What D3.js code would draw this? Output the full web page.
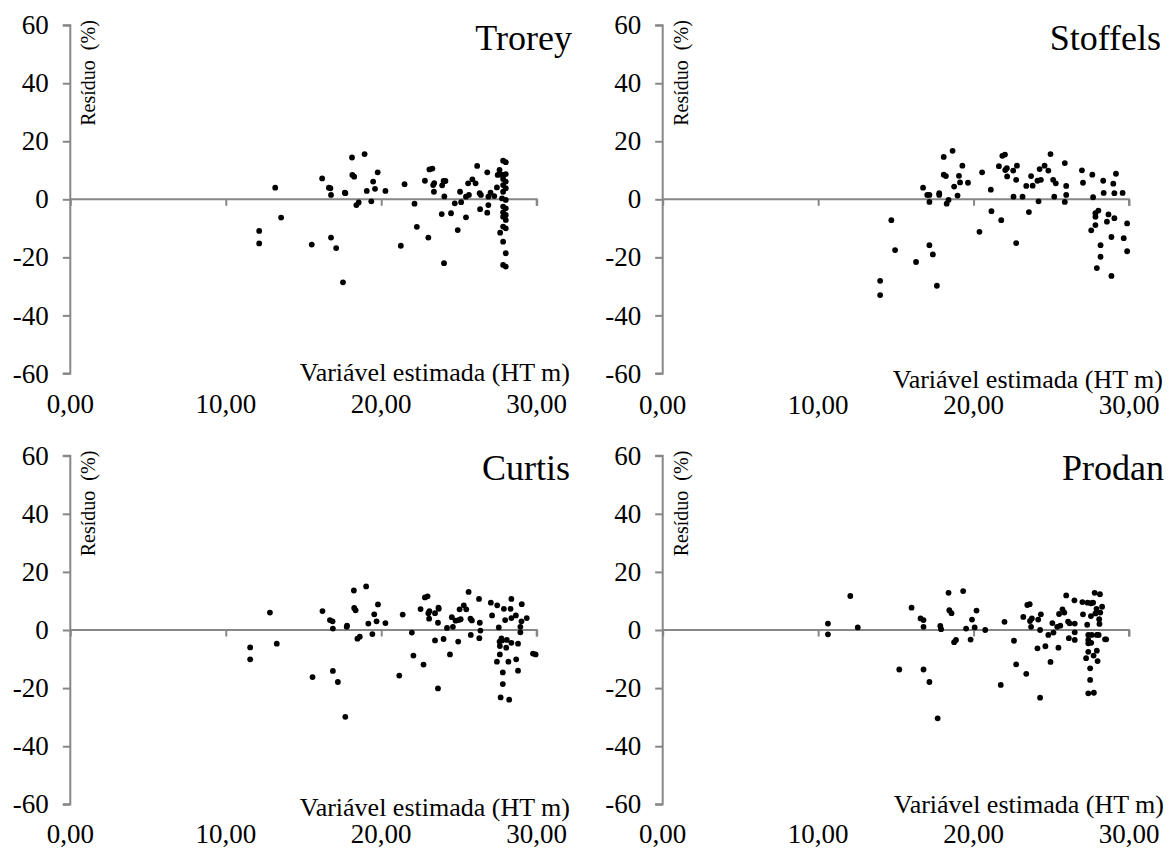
<!DOCTYPE html>
<html><head><meta charset="utf-8">
<script src="https://cdnjs.cloudflare.com/ajax/libs/d3/7.8.5/d3.min.js"></script>
<style>body{margin:0;background:#fff}svg{display:block}</style>
</head><body><svg id="c" width="1170" height="849"></svg>
<script>
// ---- data ----
const panelTitles = ["Trorey", "Stoffels", "Curtis", "Prodan"];
const xAxisTitle = "Variável estimada (HT m)";
const yAxisTitle = "Resíduo  (%)";
const xTickValues = [0, 10, 20, 30];
const yTickValues = [-60, -40, -20, 0, 20, 40, 60];

const troreyX = [12.15,12.15,13.18,13.56,15.53,16.2,16.63,16.73,16.77,16.77,17.1,17.54,17.66,17.69,18.12,18.14,18.26,18.4,18.55,18.93,19.07,19.36,19.48,19.6,19.77,20.27,21.26,21.5,22.14,22.29,22.81,23.03,23.1,23.29,23.34,23.41,23.39,23.89,23.92,24.01,24.13,24.06,24.04,24.49,24.73,24.92,25.07,25.14,25.45,25.45,25.59,25.64,25.86,26.07,26.17,26.33,26.41,26.36,26.82,26.82,26.89,26.89,27.03,27.27,27.44,27.49,27.61,27.65,27.73,27.77,27.84,28.01,27.84,28.01,27.84,28.01,27.84,28.01,27.84,28.01,27.84,28.01,27.84,28.01,27.84,28.01,27.84,28.01,27.84,28.01,27.84,28.01];
const troreyY = [-10.9,-15.2,4.0,-6.3,-15.6,7.2,4.0,3.8,1.5,-13.2,-16.8,-28.6,2.3,2.1,14.4,8.4,7.8,-2.0,-1.1,15.6,2.9,-0.7,6.1,3.6,9.3,2.9,-16.0,5.2,-1.5,-9.5,6.4,-13.2,10.3,10.6,4.9,5.6,2.6,-5.1,4.8,6.3,6.3,1.0,-22.0,-4.8,-1.4,-10.6,2.6,-1.0,-6.2,0.9,5.5,1.5,6.9,5.5,11.5,2.1,1.5,-3.4,9.3,-4.6,-2.0,0.9,2.3,1.1,4.1,8.4,10.1,-11.5,8.5,0.3,13.3,12.8,8.4,8.7,7.0,6.1,4.9,3.8,2.6,-0.2,-2.5,-3.1,-4.5,-5.4,-6.0,-7.1,-9.4,-10.0,-14.6,-18.6,-22.6,-23.2];

const stoffelsX = [13.99,13.99,14.71,14.95,16.3,16.75,17.02,17.16,17.16,17.16,17.38,17.64,17.79,17.79,18.08,18.08,18.22,18.27,18.39,18.65,18.75,18.97,19.06,19.13,19.28,19.64,20.38,20.55,21.11,21.15,21.63,21.78,21.85,22.02,22.04,22.14,22.16,22.55,22.57,22.74,22.74,22.79,23.15,23.39,23.56,23.7,23.8,24.11,24.18,24.25,24.33,24.57,24.81,24.95,25.12,25.19,25.29,25.87,25.87,25.96,25.96,26.97,27.04,27.57,27.64,27.69,27.84,27.84,27.84,27.93,28.03,28.17,28.17,28.34,28.37,28.58,28.68,28.87,28.87,28.99,29.06,29.06,29.16,29.59,29.66,29.88,29.88];
const stoffelsY = [-28.1,-33.0,-7.2,-17.5,-21.6,4.0,1.5,1.5,-0.9,-15.8,-19.0,-29.8,2.1,1.5,14.6,8.5,8.0,-1.5,-0.2,16.7,4.4,1.3,8.1,5.8,11.6,5.7,-11.2,9.3,3.3,-4.1,11.4,-7.2,15.0,15.4,10.1,10.7,7.9,9.9,0.9,6.7,-15.1,11.6,0.9,4.6,-4.4,8.0,4.7,6.4,-0.7,10.4,6.7,11.6,9.9,15.6,6.7,0.9,5.5,12.5,-0.9,4.6,1.5,10.0,5.7,-10.7,8.5,0.7,-8.9,-4.8,-6.0,-23.7,-3.9,-15.8,-19.8,6.4,2.2,-7.7,-5.2,-13.0,-26.4,5.4,2.1,-6.5,8.8,2.2,-13.4,-8.3,-17.9];

const curtisX = [11.57,11.57,12.84,13.28,15.58,16.22,16.7,16.87,16.89,16.89,17.21,17.69,17.78,17.8,18.24,18.26,18.35,18.47,18.62,19.03,19.17,19.43,19.55,19.7,19.79,20.27,21.16,21.38,21.97,22.07,22.53,22.72,22.81,22.98,23.03,23.08,23.1,23.46,23.46,23.65,23.68,23.7,23.65,24.01,24.23,24.42,24.54,24.61,24.78,24.95,24.97,25.04,25.11,25.31,25.47,25.62,25.74,25.76,25.83,26.29,26.34,26.31,26.38,27.05,27.13,27.46,27.44,27.56,27.61,27.63,27.63,27.68,27.73,27.77,27.82,27.82,27.89,27.97,28.04,28.08,28.18,28.23,28.32,28.37,28.37,28.37,28.66,28.68,28.8,28.8,28.95,28.95,29.02,29.04,29.36,29.76,29.93];
const curtisY = [-6.0,-10.1,6.0,-4.7,-16.2,6.5,3.4,3.0,0.5,-14.1,-17.9,-29.9,1.1,1.5,13.6,7.6,6.8,-3.0,-2.3,15.0,2.2,-1.4,5.4,3.0,8.8,2.4,-15.7,5.3,-0.9,-8.8,7.2,-11.9,11.2,11.6,5.8,3.9,6.5,-3.6,5.8,2.5,7.7,7.3,-20.1,-3.1,0.7,-8.4,4.4,1.1,3.2,-4.0,3.4,7.1,3.7,8.5,7.1,13.1,3.9,-1.7,3.3,10.7,2.5,-2.8,-0.2,9.4,5.0,8.5,-10.9,0.9,-4.0,-5.5,-8.4,-23.2,-2.9,-3.6,-14.6,-18.6,7.3,3.4,-6.1,-3.4,-10.9,-24.0,7.3,10.7,4.1,-4.4,5.0,-10.1,-4.7,-14.0,1.1,-0.8,3.0,8.9,4.1,-8.1,-8.4];

const prodanX = [10.63,10.63,12.07,12.55,15.22,16.01,16.59,16.78,16.78,16.78,17.16,17.69,17.86,17.91,18.39,18.44,18.58,18.75,18.87,19.33,19.52,19.81,19.9,20.07,20.19,20.75,21.75,21.99,22.6,22.74,23.2,23.39,23.46,23.61,23.63,23.7,23.75,24.11,24.16,24.28,24.28,24.33,24.62,24.81,24.95,25.07,25.14,25.38,25.46,25.5,25.58,25.72,25.84,25.96,26.08,26.13,26.18,26.49,26.51,26.51,26.51,27.0,27.04,27.24,27.31,27.33,27.38,27.38,27.38,27.38,27.38,27.5,27.5,27.55,27.55,27.57,27.6,27.69,27.72,27.74,27.79,27.84,27.91,27.93,27.93,27.98,28.05,28.08,28.1,28.13,28.15,28.27,28.46,28.53];
const prodanY = [2.2,-1.5,11.7,0.9,-13.6,7.7,4.0,3.4,1.1,-13.6,-17.9,-30.4,1.4,0.3,12.8,6.8,5.8,-4.2,-3.4,13.4,0.5,-3.3,3.6,0.9,6.7,0.0,-18.9,2.8,-3.7,-11.8,4.5,-15.1,8.6,8.9,3.1,1.1,4.0,-6.3,3.6,0.0,-23.3,5.4,-5.6,-1.7,-11.0,2.4,-0.9,1.1,-6.1,5.5,1.5,7.1,6.0,11.9,2.9,-2.8,2.3,10.2,2.2,-0.8,-3.4,9.6,5.4,-9.7,1.8,9.4,-3.4,-1.7,-4.6,-7.5,-21.8,-13.2,-17.2,9.2,4.8,-4.4,-1.7,9.4,-8.8,-21.6,12.8,5.7,7.3,-1.7,-7.1,-10.7,-1.7,3.7,2.1,12.3,6.0,8.0,-3.2,-3.2];

const seriesX = [troreyX, stoffelsX, curtisX, prodanX];
const seriesY = [troreyY, stoffelsY, curtisY, prodanY];

// ---- layout (positions / styles) ----
const layout = [
  {l:70.3, r:536.7, t:25.2, b:373.4, titleX:572, titleY:49.5, xlabX:570, xlabY:381, tickY:413},
  {l:662.7, r:1129, t:25.2, b:373.4, titleX:1161, titleY:49.5, xlabX:1163, xlabY:388, tickY:414},
  {l:70.3, r:536.7, t:455.7, b:804.3, titleX:570, titleY:480, xlabX:570, xlabY:816, tickY:843},
  {l:662.7, r:1129, t:455.7, b:804.3, titleX:1164, titleY:480, xlabX:1164, xlabY:813, tickY:843}
];
const axisColor = "#878787";
const SERIF = '"Liberation Serif", "Tinos", "Times New Roman", serif';
const fmtX = v => d3.format(".2f")(v).replace(".", ",");
const fmtY = v => String(v);

const svg = d3.select("#c");

layout.forEach((p, i) => {
  const x = d3.scaleLinear().domain([0, 30]).range([p.l, p.r]);
  const y = d3.scaleLinear().domain([-60, 60]).range([p.b, p.t]);
  const g = svg.append("g");

  // y axis
  const ya = g.append("g").attr("transform", `translate(${p.l},0)`)
    .call(d3.axisLeft(y).tickValues(yTickValues).tickSize(7.5).tickPadding(14).tickFormat(fmtY));
  ya.select(".domain").attr("stroke", axisColor).attr("stroke-width", 2).attr("d", `M-7.5,${p.t}H0V${p.b}H-7.5`);
  ya.selectAll(".tick line").attr("stroke", axisColor).attr("stroke-width", 2);
  ya.selectAll(".tick text").attr("font-size", 27).attr("fill", "#000").style("font-family", SERIF);

  // x axis at y = 0
  const xa = g.append("g").attr("transform", `translate(0,${y(0)})`)
    .call(d3.axisBottom(x).tickValues(xTickValues).tickSize(6.5).tickFormat(""));
  xa.select(".domain").attr("stroke", axisColor).attr("stroke-width", 2).attr("d", `M${p.l},0H${p.r}V6.5`);
  xa.selectAll(".tick line").attr("stroke", axisColor).attr("stroke-width", 2);

  // x tick labels at bottom
  g.selectAll(".xl").data(xTickValues).enter().append("text")
    .attr("x", d => x(d)).attr("y", p.tickY)
    .attr("text-anchor", "middle").attr("font-size", 27).style("font-family", SERIF)
    .text(fmtX);

  // points
  g.selectAll("circle").data(seriesX[i].map((v, k) => [v, seriesY[i][k]])).enter()
    .append("circle").attr("cx", d => x(d[0])).attr("cy", d => y(d[1])).attr("r", 2.9).attr("fill", "#000");

  // titles
  g.append("text").attr("x", p.titleX).attr("y", p.titleY).attr("text-anchor", "end")
    .attr("font-size", 36).style("font-family", SERIF).text(panelTitles[i]);
  g.append("text").attr("x", p.xlabX).attr("y", p.xlabY).attr("text-anchor", "end")
    .attr("font-size", 26).style("font-family", SERIF).text(xAxisTitle);
  g.append("text").attr("transform", `translate(${p.l + 25},${p.t - 5}) rotate(-90)`)
    .attr("text-anchor", "end").attr("font-size", 20).style("font-family", SERIF)
    .style("white-space", "pre").text(yAxisTitle);
});
</script></body></html>
